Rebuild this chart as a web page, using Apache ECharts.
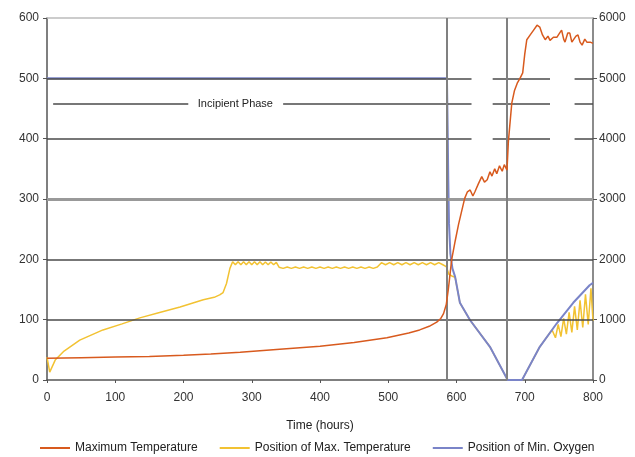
<!DOCTYPE html>
<html>
<head>
<meta charset="utf-8">
<script src="https://cdn.jsdelivr.net/npm/echarts@6/dist/echarts.min.js"></script>
<style>
  html, body { margin: 0; padding: 0; background: #fff; }
  #main { width: 635px; height: 457px; }
</style>
</head>
<body>
<div id="main"></div>
<script>
// 时间轴 / 刻度
var xTicks = [0, 100, 200, 300, 400, 500, 600, 700, 800];
var leftTicks = [0, 100, 200, 300, 400, 500, 600];
var rightTicks = [0, 1000, 2000, 3000, 4000, 5000, 6000];

// Maximum Temperature (left axis) [hours, value]
var maxTemp = [
    [0, 36], [50, 37], [100, 38], [150, 39], [200, 41], [240, 43], [283, 46], [341, 51], [400, 56],
    [450, 62], [498, 70], [530, 78], [546, 83], [560, 89], [571, 96], [577, 102], [581, 110],
    [585, 125], [588, 150], [590, 170], [593, 200], [598, 230], [603, 258], [608, 282], [612, 301],
    [616, 312], [620, 315], [624, 305], [627, 312], [632, 325], [637, 337], [641, 328], [645, 332],
    [649, 345], [652, 338], [656, 350], [659, 342], [663, 355], [667, 346], [670, 357], [674, 348],
    [676, 395], [681, 459], [685, 480], [689, 492], [693, 500], [697, 509], [700, 540], [703, 564],
    [708, 572], [713, 580], [718, 588], [722, 585], [726, 572], [730, 564], [734, 570], [737, 563],
    [742, 568], [747, 568], [751, 575], [754, 580], [757, 565], [759, 560], [763, 575], [766, 575],
    [769, 560], [771, 558], [775, 570], [778, 572], [781, 560], [784, 555], [788, 565], [791, 560],
    [796, 560], [800, 558]
];

// Position of Max. Temperature (right axis)
var posMaxTemp = [
    [0, 380], [4, 130], [12, 330], [25, 480], [48, 660], [82, 830], [110, 930], [136, 1030],
    [165, 1120], [195, 1210], [229, 1330], [245, 1370], [253, 1410], [258, 1450], [263, 1600],
    [268, 1850], [272, 1960],
    [276, 1910], [280, 1960], [284, 1910], [288, 1960], [292, 1910], [296, 1960], [300, 1910],
    [304, 1960], [308, 1910], [312, 1960], [316, 1910], [320, 1955], [324, 1910], [328, 1955],
    [332, 1910], [336, 1950],
    [340, 1870], [346, 1850], [352, 1872], [358, 1850], [364, 1872], [370, 1850], [376, 1872],
    [382, 1850], [388, 1872], [394, 1850], [400, 1872], [406, 1850], [412, 1872], [418, 1850],
    [424, 1872], [430, 1850], [436, 1872], [442, 1850], [448, 1872], [454, 1850], [460, 1872],
    [466, 1850], [472, 1872], [478, 1850], [484, 1872],
    [490, 1945], [496, 1910], [502, 1945], [508, 1910], [514, 1945], [520, 1910], [526, 1945],
    [532, 1910], [538, 1945], [544, 1910], [550, 1945], [556, 1910], [562, 1945], [568, 1910],
    [574, 1945], [580, 1910],
    [585, 1880], [589, 1750], [594, 1720], [598, 1700], [605, 1280], [620, 990], [649, 550],
    [675, 0], [696, 0], [722, 550], [740, 830],
    [745, 700], [749, 920], [753, 720], [757, 1020], [761, 760], [765, 1120], [769, 790],
    [773, 1220], [777, 830], [781, 1320], [785, 870], [789, 1420], [793, 920], [797, 1520], [800, 980]
];

// Position of Min. Oxygen (right axis)
var posMinOxygen = [
    [0, 5000], [586, 5000], [587, 4200], [588, 3300], [589, 2600], [591, 2100], [594, 1850],
    [598, 1710], [605, 1280], [620, 990], [649, 550], [675, 0], [696, 0], [722, 550],
    [747, 940], [771, 1280], [795, 1570], [800, 1610]
];

// 参考线
var phaseLines = [586, 674];
var fullLevels = [100, 200, 600];
var brokenLevels = [400, 500];
var brokenSpans = [[0, 622], [653, 737], [773, 800]];
var incipientLevel = 458;
var incipientSpans = [[9, 207], [346, 622], [653, 737], [773, 800]];
var incipientLabelAt = 276;

var gridColor = '#4a4a4a';
var lineData = [];
fullLevels.forEach(function (v) {
    lineData.push([{ coord: [0, v], lineStyle: { color: v === 600 ? '#bbb' : gridColor } }, { coord: [800, v] }]);
});
lineData.push([{ coord: [0, 300], lineStyle: { color: '#999', width: 3 } }, { coord: [800, 300] }]);
brokenLevels.forEach(function (v) {
    brokenSpans.forEach(function (s) {
        lineData.push([{ coord: [s[0], v] }, { coord: [s[1], v] }]);
    });
});
incipientSpans.forEach(function (s) {
    lineData.push([{ coord: [s[0], incipientLevel] }, { coord: [s[1], incipientLevel] }]);
});
phaseLines.forEach(function (x) {
    lineData.push([{ coord: [x, 0], lineStyle: { color: '#808080', width: 2 } }, { coord: [x, 600] }]);
});

var myChart = echarts.init(document.getElementById('main'));
var option = {
    animation: false,
    textStyle: { fontFamily: 'Liberation Sans' },
    grid: { left: 47, right: 42, top: 18, bottom: 77 },
    legend: {
        top: 437,
        left: 35,
        icon: 'rect',
        itemWidth: 30,
        itemHeight: 2,
        itemGap: 22,
        textStyle: { fontSize: 12, color: '#222' },
        data: ['Maximum Temperature', 'Position of Max. Temperature', 'Position of Min. Oxygen']
    },
    xAxis: {
        type: 'value',
        min: 0, max: 800, interval: 100,
        name: 'Time (hours)',
        nameLocation: 'middle',
        nameGap: 40,
        nameTextStyle: { fontSize: 12, color: '#222' },
        axisLine: { lineStyle: { color: '#555', width: 1.5 } },
        axisTick: { show: true, length: 3, lineStyle: { color: '#555' } },
        axisLabel: { fontSize: 12, color: '#333', margin: 12 },
        splitLine: { show: false }
    },
    yAxis: [
        {
            type: 'value',
            min: 0, max: 600, interval: 100,
            axisLine: { show: true, lineStyle: { color: '#555', width: 1.5 } },
            axisTick: { show: true, length: 4, lineStyle: { color: '#555' } },
            axisLabel: { fontSize: 12, color: '#333', margin: 8 },
            splitLine: { show: false }
        },
        {
            type: 'value',
            min: 0, max: 6000, interval: 1000,
            axisLine: { show: true, lineStyle: { color: '#666', width: 1.5 } },
            axisTick: { show: true, length: 4, lineStyle: { color: '#555' } },
            axisLabel: { fontSize: 12, color: '#333', margin: 6, formatter: function (v) { return String(v); } },
            splitLine: { show: false }
        }
    ],
    color: ['#d85a1e', '#f2c232', '#7a84c8'],
    series: [
        {
            name: 'refLines',
            type: 'line',
            yAxisIndex: 0,
            data: [],
            z: 1,
            markLine: {
                silent: true,
                symbol: ['none', 'none'],
                label: { show: false },
                lineStyle: { color: gridColor, width: 1.5, type: 'solid' },
                data: lineData
            },
            markPoint: {
                silent: true,
                symbol: 'rect',
                symbolSize: [1, 1],
                itemStyle: { color: 'rgba(0,0,0,0)' },
                label: {
                    show: true,
                    position: 'inside',
                    formatter: 'Incipient Phase',
                    color: '#222',
                    fontSize: 11
                },
                data: [{ coord: [incipientLabelAt, incipientLevel] }]
            }
        },
        {
            name: 'Position of Max. Temperature',
            type: 'line',
            yAxisIndex: 1,
            showSymbol: false,
            symbol: 'none',
            lineStyle: { width: 1.5, color: '#f2c232' },
            itemStyle: { color: '#f2c232' },
            z: 3,
            data: posMaxTemp
        },
        {
            name: 'Position of Min. Oxygen',
            type: 'line',
            yAxisIndex: 1,
            showSymbol: false,
            symbol: 'none',
            lineStyle: { width: 2, color: '#7a84c8' },
            itemStyle: { color: '#7a84c8' },
            z: 4,
            data: posMinOxygen
        },
        {
            name: 'Maximum Temperature',
            type: 'line',
            yAxisIndex: 0,
            showSymbol: false,
            symbol: 'none',
            lineStyle: { width: 1.5, color: '#d85a1e' },
            itemStyle: { color: '#d85a1e' },
            z: 5,
            data: maxTemp
        }
    ]
};
myChart.setOption(option);
</script>
</body>
</html>
